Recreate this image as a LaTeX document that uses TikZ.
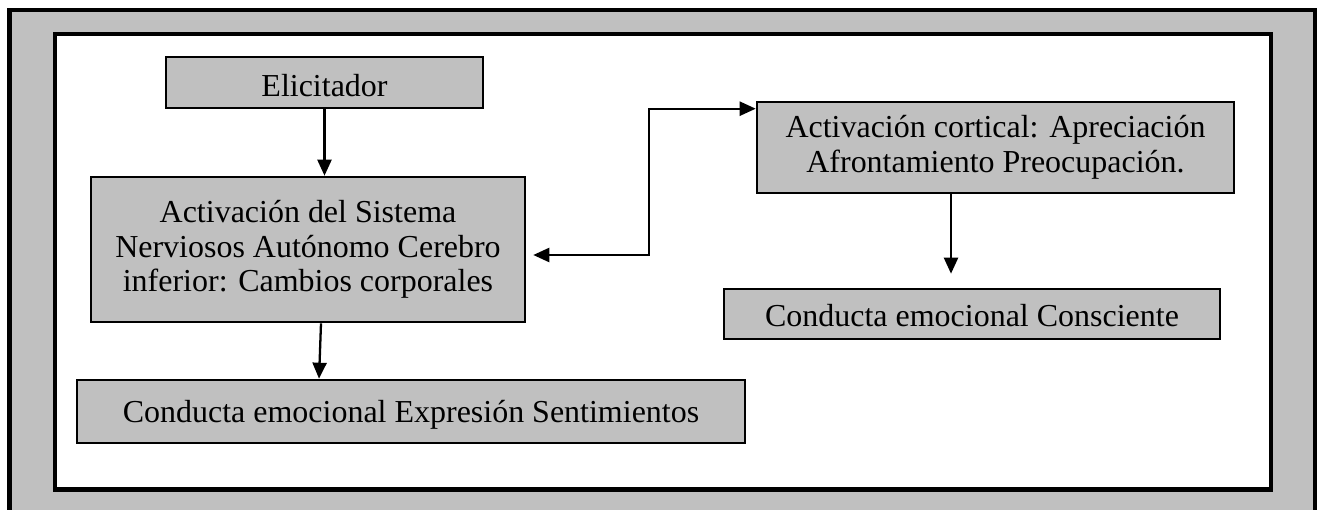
\documentclass[tikz,border=0pt]{standalone}
\usepackage{fontspec}
\setmainfont{Liberation Serif}
\usetikzlibrary{arrows.meta, positioning}
\definecolor{boxgray}{RGB}{192,192,192}
\tikzset{
>={Triangle[length=0.32cm,width=0.28cm]}, % filled arrow heads
box/.style={draw, line width=1.5pt, fill=boxgray, align=center, inner sep=0pt,
  font=\fontsize{18.2}{19.6}\selectfont}, % the grey boxes
link/.style={->, line width=1.3pt}, % one way connector
twoway/.style={<->, line width=1.3pt}, % connector with two heads
frame/.style={line width=2.3pt}, % outer and inner border
}

\begin{document}
\begin{tikzpicture}[x=0.02cm, y=-0.02cm]
\useasboundingbox (0,0) rectangle (1319,510);
\clip (0,0) rectangle (1319,510);
% the two frames
\draw[frame, fill=boxgray] (9.5,10) rectangle (1315,540);
\draw[frame, fill=white] (55,34) rectangle (1271,489.5);
% boxes
\node[box, minimum width=6.34cm, minimum height=1.02cm, text height=0.58cm, text depth=0cm] (elic) at (324.5,82.5) {Elicitador};
\node[box, minimum width=8.68cm, minimum height=2.9cm] (sist) at (308,249.5)
  {Activación del Sistema\\ Nerviosos Autónomo Cerebro\\ inferior: Cambios corporales};
\node[box, minimum width=9.54cm, minimum height=1.82cm] (cort) at (995.5,147.5)
  {Activación cortical: Apreciación\\ Afrontamiento Preocupación.};
\node[box, minimum width=9.92cm, minimum height=1.0cm, text height=0.52cm, text depth=0cm] (consc) at (972,314) {Conducta emocional Consciente};
\node[box, minimum width=13.36cm, minimum height=1.26cm, text height=0.44cm, text depth=0cm] (expr) at (411,411.5) {Conducta emocional Expresión Sentimientos};
% connectors
\draw[link] (elic.south) -- (elic.south |- sist.north);
\draw[link] ([xshift=0.26cm]sist.south) -- ([xshift=-1.84cm]expr.north);
\draw[twoway] ([shift={(0.14cm,-0.11cm)}]sist.east) -- ++(116,0) |- ([yshift=-0.16cm]cort.north west);
\draw[link, shorten >=0.28cm] ([xshift=-0.89cm]cort.south) -- ([xshift=-0.89cm]cort.south |- consc.north);
\end{tikzpicture}
\end{document}
